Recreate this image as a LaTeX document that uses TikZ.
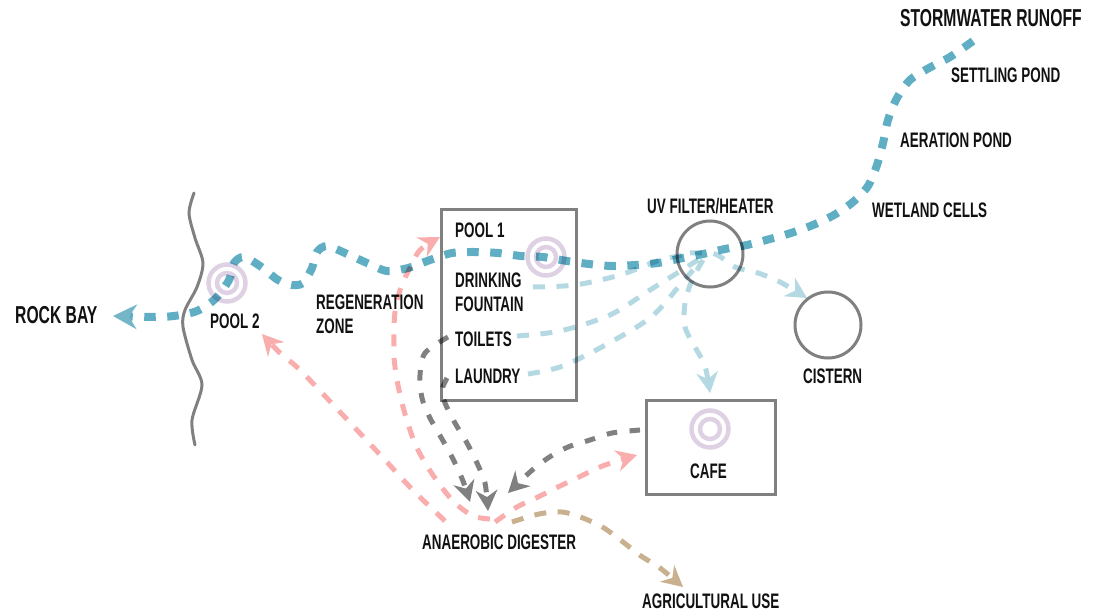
\documentclass[tikz,border=0pt]{standalone}
\usepackage{fontspec}
\setmainfont{Liberation Sans}[FakeStretch=0.64,BoldFont={Liberation Sans Bold}]
\usetikzlibrary{arrows.meta}
\definecolor{flowblue}{HTML}{5FAEC3}
\definecolor{tipblue}{HTML}{74B6C8}
\definecolor{lightflow}{HTML}{B5D9E3}
\definecolor{pinkflow}{HTML}{F9ADAD}
\definecolor{greyflow}{HTML}{808080}
\definecolor{tanflow}{HTML}{C9B08F}
\definecolor{ringcol}{HTML}{DFD1E4}
\definecolor{inkcol}{HTML}{111111}
\newcommand{\flowline}[2]{\begin{scope}[transparency group,blend mode=multiply]\draw[#1] plot[smooth] coordinates {#2};\end{scope}}
\tikzset{
  x=1pt,y=-1pt,
  lbl/.style={anchor=base west,inner sep=0pt,text=inkcol,align=left,font=\bfseries\fontsize{21}{23.5}\selectfont},
  biglbl/.style={lbl,font=\bfseries\fontsize{24.5}{26}\selectfont},
  frame/.style={draw=greyflow,line width=3pt},
  ring/.style={draw=ringcol,line width=4.5pt,fill=none},
  mainflow/.style={draw=flowblue,line width=8pt,dash pattern=on 11.5pt off 11.5pt,
     -{Stealth[length=24pt,width=25pt,inset=8pt,color=tipblue,line width=0pt]}},
  thin flow/.style={line width=5pt,dash pattern=on 12pt off 11.5pt},
  lightnotip/.style={thin flow,draw=lightflow},
  flowtip/.style={-{Stealth[length=21pt,width=22pt,inset=7pt,line width=0pt]}},
  lighttip/.style={thin flow,draw=lightflow,flowtip},
  pinktip/.style={thin flow,draw=pinkflow,flowtip},
  greytip/.style={thin flow,draw=greyflow,dash pattern=on 10.5pt off 12.5pt,flowtip},
  tantip/.style={thin flow,draw=tanflow,flowtip},
}
\begin{document}
\begin{tikzpicture}
\useasboundingbox (0,0) rectangle (1103,615);
% named free ends
\coordinate (runoffEnd) at (973,41);
\coordinate (rockTip) at (113,316);
\coordinate (fountainEnd) at (533,287);
\coordinate (toiletEnd) at (517,336);
\coordinate (laundryEnd) at (528,374);
\coordinate (cisternTip) at (807,298);
\coordinate (cafeTip) at (710,393);
\coordinate (digA) at (445,521);
\coordinate (digB) at (490,519);
\coordinate (digC) at (495,522);
\coordinate (digD) at (512,522);
\coordinate (pool2Tip) at (262,334);
\coordinate (pool1Tip) at (440,237);
\coordinate (cafeInTip) at (637,455);
\coordinate (toiletGrey) at (448,337);
\coordinate (laundryGrey) at (447,378);
\coordinate (digTipA) at (470,502);
\coordinate (digTipB) at (488,511);
\coordinate (cafeGrey) at (640,430);
\coordinate (digTipC) at (508,493);
\coordinate (agriTip) at (683,587);
% shapes
\draw[greyflow,line width=3pt,line cap=round] plot[smooth] coordinates {(194,193) (189,213) (195,238) (203,263) (197,287) (185,310) (183,327) (192,360) (202,385) (192,420) (195,445)};
\node[frame,minimum width=135pt,minimum height=191pt,inner sep=0pt] (poolbox) at (508.5,304.5) {};
\node[frame,minimum width=129pt,minimum height=94pt,inner sep=0pt] (cafebox) at (710.5,447) {};
\node[frame,circle,minimum size=66pt,inner sep=0pt] (uv) at (710,254) {};
\node[frame,circle,minimum size=66pt,inner sep=0pt] (cistern) at (828,325) {};
% labels
\node[biglbl] (runoff) at (900,27) {STORMWATER RUNOFF};
\node[lbl] (settling) at (951,83) {SETTLING POND};
\node[lbl] (aeration) at (900,147) {AERATION POND};
\node[lbl] (wetland) at (872,217) {WETLAND CELLS};
\node[lbl] (uvlabel) at (647,213) {UV FILTER/HEATER};
\node[lbl] (cisternlabel) at (803,383) {CISTERN};
\node[lbl] (pool1) at (455,237) {POOL 1};
\node[lbl] (fountain) at (455,311) {DRINKING\\FOUNTAIN};
\node[lbl] (toilets) at (455,346) {TOILETS};
\node[lbl] (laundry) at (455,383) {LAUNDRY};
\node[lbl] (regen) at (316,333) {REGENERATION\\ZONE};
\node[lbl] (pool2) at (210,328) {POOL 2};
\node[biglbl] (rock) at (15,323) {ROCK BAY};
\node[lbl] (cafelabel) at (690,478) {CAFE};
\node[lbl] (digester) at (422,549) {ANAEROBIC DIGESTER};
\node[lbl] (agri) at (642,608) {AGRICULTURAL USE};
% connectors
\flowline{lightnotip}{(fountainEnd) (575,285) (620,275) (660,260) (690,254)}
\flowline{lightnotip}{(toiletEnd) (560,331) (610,315) (650,290) (690,265) (705,255)}
\flowline{lightnotip}{(laundryEnd) (560,367) (600,348) (650,318) (680,285) (700,262)}
\flowline{lighttip}{(690,253) (715,254) (735,267) (758,273) (780,282) (cisternTip)}
\flowline{lighttip}{(703,260) (692,280) (685,303) (685,327) (695,347) (705,366) (cafeTip)}
\flowline{pinktip}{(digA) (425,502) (408,485) (385,460) (340,412) (300,370) (280,353) (pool2Tip)}
\flowline{pinktip}{(digB) (473,516) (455,503) (440,485) (427,466) (416,446) (408,424) (402,403) (397,380) (394,357) (394,333) (395,312) (401,287) (410,268) (420,250) (pool1Tip)}
\flowline{pinktip}{(digC) (517,507) (538,497) (558,487) (579,477) (600,467) (617,461) (cafeInTip)}
\flowline{greytip}{(toiletGrey) (425,353) (420,375) (422,398) (430,418) (442,439) (453,459) (463,481) (digTipA)}
\flowline{greytip}{(laundryGrey) (442,390) (445,403) (455,423) (467,443) (477,463) (485,483) (digTipB)}
\flowline{greytip}{(cafeGrey) (612,433) (590,440) (568,447) (548,458) (530,472) (digTipC)}
\flowline{tantip}{(digD) (539,514) (562,512) (583,518) (604,528) (623,542) (641,556) (660,568) (agriTip)}
\flowline{mainflow}{(runoffEnd) (950,57) (929,68) (910,80) (897,98) (888,120) (883,143) (877,165) (868,186) (853,202) (834,215) (813,225) (791,233) (770,239) (747,245) (725,249) (703,254) (678,259) (658,263) (635,265) (612,266) (589,264) (567,261) (543,257) (521,256) (498,253) (475,252) (452,253) (430,260) (408,268) (387,271) (367,263) (345,253) (327,246) (317,252) (312,268) (303,283) (292,285) (278,280) (260,266) (244,257) (234,263) (229,280) (215,299) (197,311) (174,316) (151,317) (rockTip)}
\begin{scope}[blend mode=multiply]
\node[ring,circle,minimum size=37pt,inner sep=0pt] (ringA) at (227,283) {};
\node[ring,circle,minimum size=20pt,inner sep=0pt] (ringAi) at (227,283) {};
\node[ring,circle,minimum size=37pt,inner sep=0pt] (ringB) at (546,257) {};
\node[ring,circle,minimum size=20pt,inner sep=0pt] (ringBi) at (546,257) {};
\node[ring,circle,minimum size=37pt,inner sep=0pt] (ringC) at (710,429) {};
\node[ring,circle,minimum size=20pt,inner sep=0pt] (ringCi) at (710,429) {};
\end{scope}
\end{tikzpicture}
\end{document}
